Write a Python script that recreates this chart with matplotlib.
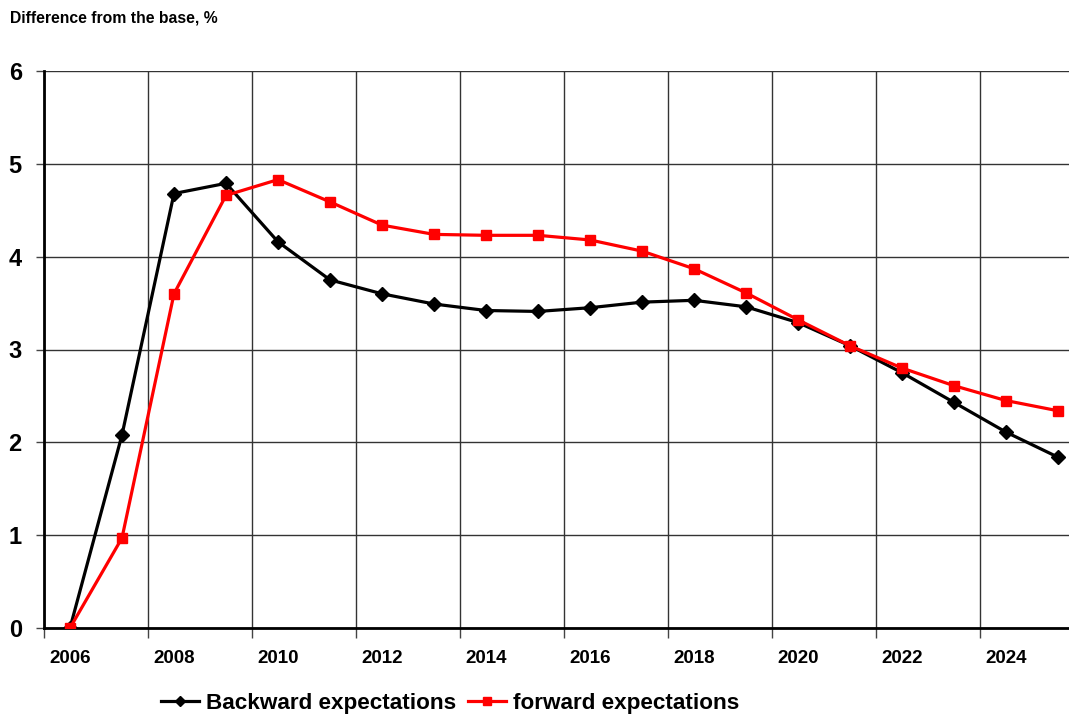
import numpy as np
import matplotlib.pyplot as plt

plt.rcParams['font.family'] = ['Liberation Sans', 'DejaVu Sans']
plt.rcParams['font.weight'] = 'bold'

years = [2006, 2007, 2008, 2009, 2010, 2011, 2012, 2013, 2014, 2015,
         2016, 2017, 2018, 2019, 2020, 2021, 2022, 2023, 2024, 2025]
backward = [0.0, 2.08, 4.68, 4.79, 4.16, 3.75, 3.60, 3.49, 3.42, 3.41,
            3.45, 3.51, 3.53, 3.46, 3.29, 3.04, 2.75, 2.43, 2.11, 1.84]
forward = [0.0, 0.97, 3.60, 4.66, 4.83, 4.59, 4.34, 4.24, 4.23, 4.23,
           4.18, 4.06, 3.87, 3.61, 3.32, 3.04, 2.80, 2.61, 2.45, 2.34]
year_labels = ['2006', '2008', '2010', '2012', '2014', '2016', '2018',
               '2020', '2022', '2024']


def create_graph():
    fig = plt.figure(figsize=(10.69, 7.15), dpi=100)
    ax = fig.add_axes([44 / 1069, 1 - 628 / 715, 1040 / 1069, 557 / 715])

    ax.plot(years, backward, color='black', lw=2.3, marker='D', ms=7,
            label='Backward expectations', zorder=3)
    ax.plot(years, forward, color='#ff0000', lw=2.3, marker='s', ms=7,
            label='forward expectations', zorder=4)

    ax.set_xlim(years[0] - 0.5, years[-1] + 0.5)
    ax.set_ylim(0, 6)

    # gridlines between categories, labels on the categories
    ax.set_xticks(np.array(years[::2]) - 0.5)
    ax.set_xticklabels([])
    ax.set_xticks(years[::2], minor=True)
    ax.set_xticklabels(year_labels, minor=True, fontsize=13.5, fontweight='bold')
    ax.tick_params(axis='x', which='minor', length=0, pad=16)
    ax.tick_params(axis='x', which='major', direction='out', length=7, width=1, color='#444444')

    ax.set_yticks(range(7))
    ax.tick_params(axis='y', direction='out', length=6, width=1, color='#444444',
                   labelsize=17, pad=10)
    for lbl in ax.get_yticklabels():
        lbl.set_fontweight('bold')

    ax.grid(True, which='major', color='#333333', lw=1)
    ax.set_axisbelow(True)
    for side in ['top', 'right']:
        ax.spines[side].set_visible(False)
    ax.spines['left'].set_linewidth(2)
    ax.spines['bottom'].set_linewidth(2)

    fig.text(10 / 1069, 1 - 18 / 715, 'Difference from the base, %', fontsize=11.3,
             fontweight='bold', va='center', ha='left')

    fig.legend(loc='center', bbox_to_anchor=(450 / 1069, 1 - 703 / 715), ncol=2,
               frameon=False, fontsize=16.2, handlelength=1.7, columnspacing=0.5,
               handletextpad=0.3, markerscale=0.8)

    fig.savefig('out.png', dpi=100)


def main():
    create_graph()


if __name__ == '__main__':
    main()
